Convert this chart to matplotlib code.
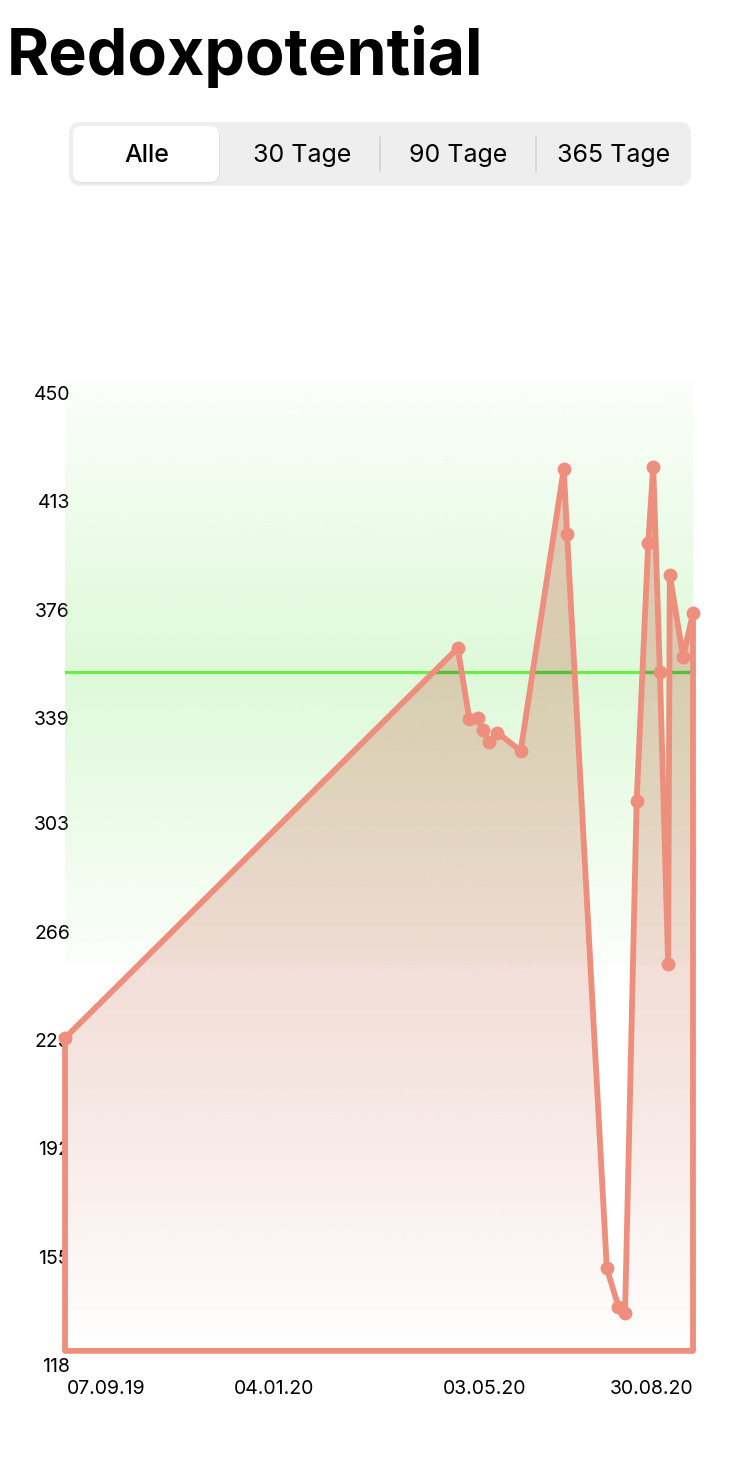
import numpy as np
import pandas as pd
import matplotlib
matplotlib.use("Agg")
import matplotlib.pyplot as plt
from matplotlib.patches import FancyBboxPatch, Polygon
from matplotlib.transforms import Affine2D, offset_copy
from matplotlib.lines import Line2D

plt.rcParams['font.family'] = ['Inter', 'Roboto', 'DejaVu Sans']

# ---------------- data ----------------
title = "Redoxpotential"
segments = ["Alle", "30 Tage", "90 Tage", "365 Tage"]

dates = ["2019-09-07", "2020-05-01", "2020-05-08", "2020-05-13", "2020-05-16",
         "2020-05-20", "2020-05-25", "2020-06-08", "2020-07-04", "2020-07-06",
         "2020-07-30", "2020-08-06", "2020-08-10", "2020-08-17", "2020-08-24",
         "2020-08-27", "2020-08-31", "2020-09-05", "2020-09-06", "2020-09-14",
         "2020-09-20"]
values = [229.0, 362.2, 338.0, 338.3, 334.2, 330.0, 333.3, 327.1, 423.4, 401.2,
          150.3, 137.2, 135.2, 310.1, 398.2, 424.1, 354.2, 254.2, 387.2, 359.2,
          374.1]

x_tick_labels = ["07.09.19", "04.01.20", "03.05.20", "30.08.20"]
x_tick_days = [1, 102, 228, 329]
y_tick_values = [450, 413, 376, 339, 303, 266, 229, 192, 155, 118]
y_tick_labels = ["450", "413", "376", "339", "303", "266", "229", "192", "155", "118"]

target_value = 354
band_halfwidth = 100
y_min, y_max = 118, 453.8
fill_base = 122.1

# ---------------- figure ----------------
W, H = 734, 1466
fig = plt.figure(figsize=(W / 100, H / 100), dpi=100)
fig.patch.set_facecolor("white")
px = Affine2D().scale(1 / W, 1 / H) + fig.transFigure  # pixel coords, y up


def Y(y):
    return H - y


# title
fig.text(7, Y(75), title, transform=px, fontsize=46.5, fontweight="bold",
         color="black", ha="left", va="baseline")

# segmented control
seg_x0, seg_x1, seg_y0, seg_y1 = 69, 691, 122, 186
bg = FancyBboxPatch((seg_x0, Y(seg_y1)), seg_x1 - seg_x0, seg_y1 - seg_y0,
                    boxstyle="round,pad=0,rounding_size=12", transform=px,
                    facecolor="#EEEEEF", edgecolor="none")
fig.add_artist(bg)
sw = (seg_x1 - seg_x0) / len(segments)
sh = FancyBboxPatch((74, Y(183.5)), 146, 56,
                    boxstyle="round,pad=0,rounding_size=9", transform=px,
                    facecolor="#D8D8DA", edgecolor="none", alpha=0.6)
fig.add_artist(sh)
sel = FancyBboxPatch((73, Y(182)), 146, 56,
                     boxstyle="round,pad=0,rounding_size=9", transform=px,
                     facecolor="white", edgecolor="none")
fig.add_artist(sel)
for i in (2, 3):
    xd = seg_x0 + i * sw
    fig.add_artist(Line2D([xd, xd], [Y(137), Y(171)], transform=px,
                          color="#D3D3D6", lw=1.2))
for i, s in enumerate(segments):
    fig.text(seg_x0 + (i + 0.5) * sw, Y(155.5), s, transform=px, fontsize=18,
             fontweight="medium" if i == 0 else "normal",
             ha="center", va="center", color="black")

# chart axes
ax_top, ax_bot = 380, 1362.9
ax = fig.add_axes([65 / W, 1 - ax_bot / H, 628 / W, (ax_bot - ax_top) / H])
ax.set_facecolor("none")
for sp in ax.spines.values():
    sp.set_visible(False)
ax.set_axisbelow(True)

days = (pd.to_datetime(dates) - pd.to_datetime(dates[0])).days.values.astype(float)
vals = np.array(values)
xmax = days[-1]

verts = [(d, v) for d, v in zip(days, vals)] + [(xmax, fill_base), (0, fill_base)]

# white under-fill (hides labels beneath the area)
white_poly = Polygon(verts, closed=True, facecolor="white", edgecolor="none", zorder=0.7)
ax.add_patch(white_poly)

# green target band gradient
yy = np.linspace(target_value - band_halfwidth, min(target_value + band_halfwidth, y_max), 400)
a_band = 0.03 + 0.21 * (1 - np.abs(yy - target_value) / band_halfwidth)
band = np.zeros((len(yy), 1, 4))
band[..., 0] = 118 / 255
band[..., 1] = 232 / 255
band[..., 2] = 98 / 255
band[:, 0, 3] = a_band
ax.imshow(band, extent=[0, xmax, yy[0], yy[-1]], origin="lower",
          aspect="auto", zorder=1, interpolation="bilinear")

# target line
ax.axhline(target_value, color="#6DEB4B", lw=2.3, zorder=1.2)

# fill gradient
fy = np.linspace(fill_base, y_max, 500)
t = (fy - fill_base) / (y_max - fill_base)
a_fill = np.interp(t, [0, 0.0525, 0.269, 0.413, 0.67, 0.908, 1.0],
                   [0, 0.03, 0.15, 0.21, 0.27, 0.32, 0.34])
fill = np.zeros((len(fy), 1, 4))
fill[..., 0] = 195 / 255
fill[..., 1] = 90 / 255
fill[..., 2] = 62 / 255
fill[:, 0, 3] = a_fill
clip_poly = Polygon(verts, closed=True, facecolor="none", edgecolor="none",
                    transform=ax.transData)
im = ax.imshow(fill, extent=[0, xmax, fill_base, y_max], origin="lower",
               aspect="auto", zorder=2, interpolation="bilinear")
im.set_clip_path(clip_poly)

# darker target line inside the area
inner = ax.axhline(target_value, color="#55BF3A", lw=2.3, zorder=2.1)
clip_poly2 = Polygon(verts, closed=True, facecolor="none", edgecolor="none",
                     transform=ax.transData)
inner.set_clip_path(clip_poly2)

# outline + line
salmon = "#EE8F7E"
ox = list(days) + [xmax, 0, days[0]]
oy = list(vals) + [fill_base, fill_base, vals[0]]
ax.plot(ox, oy, color=salmon, lw=4.2, solid_joinstyle="round",
        solid_capstyle="round", clip_on=False, zorder=3)
ax.plot(days, vals, "o", ms=10, color=salmon, mec="none", clip_on=False, zorder=3.1)

ax.set_xlim(0, xmax)
ax.set_ylim(y_min, y_max)

ax.set_yticks(y_tick_values, y_tick_labels)
ax.tick_params(axis="y", length=0, pad=-3.6, labelsize=14, labelcolor="black")
for lbl in ax.get_yticklabels():
    lbl.set_transform(offset_copy(lbl.get_transform(), fig=fig, x=0, y=-2, units="dots"))
ax.set_xticks(x_tick_days, x_tick_labels)
ax.tick_params(axis="x", length=0, pad=12, labelsize=14, labelcolor="black")
for lbl in ax.get_xticklabels():
    lbl.set_horizontalalignment("left")

fig.savefig("out.png", dpi=100, facecolor="white")
